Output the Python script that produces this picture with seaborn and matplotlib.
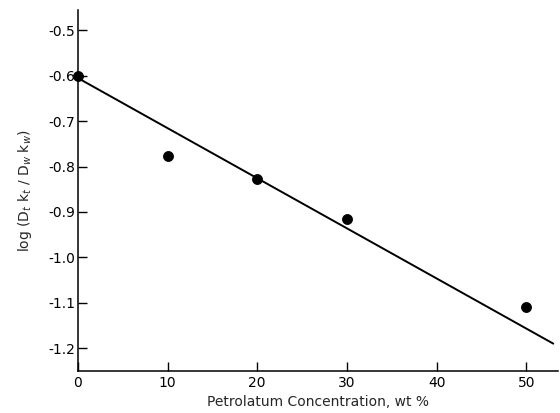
import matplotlib
matplotlib.use("Agg")
import matplotlib.pyplot as plt
import seaborn as sns
import pandas as pd

# data
conc = [0, 10, 20, 30, 50]
log_ratio = [-0.60, -0.777, -0.827, -0.915, -1.109]
line_x = [0, 53]
line_y = [-0.605, -1.19]
yticks = [-0.5, -0.6, -0.7, -0.8, -0.9, -1.0, -1.1, -1.2]
xticks = [0, 10, 20, 30, 40, 50]

sns.set_theme(style="ticks")
plt.rcParams['font.family'] = ['DejaVu Sans']

fig = plt.figure(figsize=(5.6, 4.13), dpi=100)
ax = fig.add_axes([0.139, 0.102, 0.857, 0.874])

df = pd.DataFrame({"x": conc, "y": log_ratio})
sns.lineplot(x=line_x, y=line_y, ax=ax, color="black", linewidth=1.4)
sns.scatterplot(data=df, x="x", y="y", ax=ax, color="black", s=52,
                edgecolor="black", zorder=3, clip_on=False)

ax.set_xlim(0, 53.5)
ax.set_ylim(-1.25, -0.455)
ax.set_xticks(xticks)
ax.set_yticks(yticks)
ax.set_yticklabels([f"{v:.1f}" for v in yticks])
ax.tick_params(direction="in", length=6.5, width=1, colors="black", labelsize=10)
ax.tick_params(axis="y", pad=2)
sns.despine(ax=ax)
for s in ["left", "bottom"]:
    ax.spines[s].set_linewidth(1.1)
    ax.spines[s].set_color("black")

ax.set_xlabel("Petrolatum Concentration, wt %", fontsize=10, labelpad=4)
ax.set_ylabel(r"log (D$_t$ k$_t$ / D$_w$ k$_w$)", fontsize=10, labelpad=10)

fig.savefig("out.png", dpi=100)
